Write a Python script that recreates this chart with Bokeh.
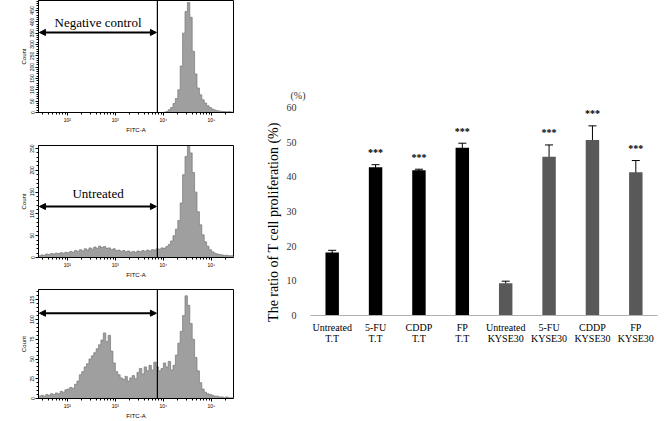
import numpy as np
from bokeh.plotting import figure
from bokeh.layouts import row, column
from bokeh.models import (Range1d, FixedTicker, SingleIntervalTicker, Span, Arrow,
                          NormalHead, Label, Whisker, ColumnDataSource)
from bokeh.core.properties import value
from bokeh.embed import file_html
from bokeh.resources import INLINE

# ---------------- histogram data (log10 FITC-A bins) ----------------
BIN_START = 1.40
BIN_WIDTH = 0.05
GATE = 7500

neg_counts = [0] * 52 + [
    1, 4, 12, 22, 40, 62, 100, 205, 350, 445,
    485, 420, 270, 170, 108, 78, 56, 42, 30, 22,
    15, 11, 8, 6, 5, 4, 3, 4, 2, 2]

untreated_counts = [
    4, 6, 5, 8, 7, 9, 8, 10, 9, 11,
    10, 12, 11, 14, 12, 16, 14, 18, 15, 20,
    17, 22, 19, 24, 21, 26, 23, 25, 21, 22,
    18, 20, 16, 17, 14, 16, 13, 15, 12, 14,
    12, 15, 13, 16, 14, 17, 15, 18, 17, 20,
    19, 22, 21, 25, 30, 38, 50, 65, 85, 125,
    190, 232, 255, 240, 195, 150, 105, 75, 52, 36,
    26, 18, 13, 10, 8, 7, 6, 5, 5, 4,
    4, 3]

treated_counts = [
    3, 4, 3, 5, 4, 6, 5, 7, 6, 9,
    8, 11, 12, 14, 13, 18, 22, 30, 34, 40,
    44, 50, 54, 58, 63, 68, 74, 83, 72, 80,
    60, 45, 34, 30, 26, 24, 28, 22, 26, 29,
    25, 33, 38, 31, 40, 35, 42, 36, 46, 40,
    35, 38, 45, 40, 47, 36, 42, 55, 70, 85,
    105, 130, 118, 95, 75, 52, 35, 20, 12, 8,
    6, 5, 4, 3, 3, 2, 2, 1, 2, 1,
    1, 1]

x_ticks = [2, 3, 4, 5]
x_tick_labels = ["10²", "10³", "10⁴", "10⁵"]

# ---------------- bar chart data ----------------
label_line1 = ["Untreated", "5-FU", "CDDP", "FP", "Untreated", "5-FU", "CDDP", "FP"]
label_line2 = ["T.T", "T.T", "T.T", "T.T", "KYSE30", "KYSE30", "KYSE30", "KYSE30"]
means = [18.2, 42.8, 41.9, 48.4, 9.3, 45.8, 50.6, 41.3]
errors = [0.6, 0.7, 0.3, 1.3, 0.6, 3.4, 4.1, 3.4]
stars = ["", "***", "***", "***", "", "***", "***", "***"]

SANS = "Liberation Sans"
SERIF = "Liberation Serif"


def hist_fig(counts, ymax, yint, arrow_y, text, text_y, height, top, bottom):
    p = figure(width=240, height=height, x_range=Range1d(1.40, 5.46),
               y_range=Range1d(0, ymax), output_backend="svg", toolbar_location=None,
               min_border_left=38, min_border_right=7, min_border_top=top,
               min_border_bottom=bottom)
    p.grid.visible = False
    p.outline_line_color = "black"
    p.outline_line_width = 1
    n = len(counts)
    edges = BIN_START + BIN_WIDTH * np.arange(n + 1)
    xs = np.repeat(edges, 2)
    ys = np.concatenate([[0], np.repeat(counts, 2), [0]])
    p.patch(x=xs, y=ys, fill_color="#9f9f9f", line_color=None)
    p.line(x=xs, y=ys, line_color="#777777", line_width=0.7)

    p.add_layout(Span(location=np.log10(GATE), dimension="height",
                      line_color="black", line_width=1.2))
    p.add_layout(Arrow(start=NormalHead(size=6, fill_color="black", line_color="black"),
                       end=NormalHead(size=6, fill_color="black", line_color="black"),
                       x_start=1.42, x_end=np.log10(GATE) - 0.02,
                       y_start=arrow_y, y_end=arrow_y, line_width=2, line_color="black"))
    if text:
        p.add_layout(Label(x=2.64, y=text_y, text=text, text_align="center",
                           text_baseline="middle", text_font=SERIF,
                           text_font_size="13px", text_color="black"))

    minor = [np.log10(k * 10 ** d) for d in range(1, 6) for k in range(2, 10)]
    p.xaxis.ticker = FixedTicker(ticks=x_ticks, minor_ticks=minor)
    p.xaxis.major_label_overrides = dict(zip(x_ticks, x_tick_labels))
    p.xaxis.axis_label = "FITC-A"
    p.yaxis.ticker = SingleIntervalTicker(interval=yint, num_minor_ticks=5)
    p.yaxis.axis_label = "Count"
    p.yaxis.major_label_orientation = "vertical"
    for ax in (p.xaxis, p.yaxis):
        ax.major_label_text_font = SANS
        ax.major_label_text_font_size = "5px"
        ax.major_label_text_color = "black"
        ax.axis_label_text_font = SANS
        ax.axis_label_text_font_size = "6px"
        ax.axis_label_text_font_style = "normal"
        ax.axis_label_text_color = "black"
        ax.axis_line_color = "black"
        ax.major_tick_in = 0
        ax.major_tick_out = 3
        ax.minor_tick_in = 0
        ax.minor_tick_out = 2
        ax.major_label_standoff = 1
        ax.axis_label_standoff = 1
    return p


f1 = hist_fig(neg_counts, 494, 50, 353, "Negative control", 398, 140, 0, 28)
f2 = hist_fig(untreated_counts, 257, 50, 117, "Untreated", 146, 145, 5, 28)
f3 = hist_fig(treated_counts, 138, 25, 108, "", 0, 136, 4, 23)

# ---------------- bar chart ----------------
xpos = list(range(len(means)))
src = ColumnDataSource(dict(x=xpos, mean=means,
                            color=["black" if g == "T.T" else "#595959" for g in label_line2],
                            upper=[m + e for m, e in zip(means, errors)],
                            lower=[m - e for m, e in zip(means, errors)],
                            stars=stars))
p = figure(width=429, height=421, x_range=Range1d(-0.5, len(means) - 0.5),
           y_range=Range1d(0, 60), output_backend="svg", toolbar_location=None,
           min_border_left=70, min_border_right=12, min_border_top=107,
           min_border_bottom=106, title="(%)")
p.grid.visible = False
p.outline_line_color = None
p.vbar(x="x", top="mean", width=0.31, source=src, line_color=None, fill_color="color")
wh = Whisker(base="x", upper="upper", lower="lower", source=src,
             line_color="black", line_width=1)
wh.upper_head.size = 8
wh.lower_head.size = 8
wh.upper_head.line_color = "black"
wh.lower_head.line_color = "black"
p.add_layout(wh)
p.text(x="x", y="upper", text="stars", source=src, text_align="center",
       text_baseline="alphabetic", y_offset=-12, text_font=value(SERIF),
       text_font_size="10px", text_font_style="bold", text_color="black")

p.title.align = "left"
p.title.offset = -20
p.title.standoff = 13
p.title.text_font = SERIF
p.title.text_font_size = "10px"
p.title.text_font_style = "normal"
p.title.text_color = "#333333"

p.yaxis.ticker = SingleIntervalTicker(interval=10, num_minor_ticks=0)
p.yaxis.axis_line_color = None
p.yaxis.major_tick_line_color = None
p.yaxis.minor_tick_line_color = None
p.yaxis.major_label_text_font = SERIF
p.yaxis.major_label_text_font_size = "10px"
p.yaxis.major_label_text_color = "#333333"
p.yaxis.major_label_standoff = 8
p.yaxis.axis_label = "The ratio of T cell proliferation (%)" + "\u00a0" * 6
p.yaxis.axis_label_text_font = SERIF
p.yaxis.axis_label_text_font_size = "14px"
p.yaxis.axis_label_text_font_style = "normal"
p.yaxis.axis_label_text_color = "black"
p.yaxis.axis_label_standoff = 3

p.xaxis.ticker = FixedTicker(ticks=xpos, minor_ticks=[])
p.xaxis.major_label_overrides = {i: f"{a}\n{b}" for i, a, b in
                                 zip(xpos, label_line1, label_line2)}
p.xaxis.axis_line_color = "#b0b0b0"
p.xaxis.major_tick_line_color = None
p.xaxis.major_label_text_font = SERIF
p.xaxis.major_label_text_font_size = "10px"
p.xaxis.major_label_text_line_height = 1.05
p.xaxis.major_label_text_color = "black"
p.xaxis.major_label_standoff = 0

layout = row(column(f1, f2, f3), p)
open("out.html", "w").write(file_html(layout, INLINE))
